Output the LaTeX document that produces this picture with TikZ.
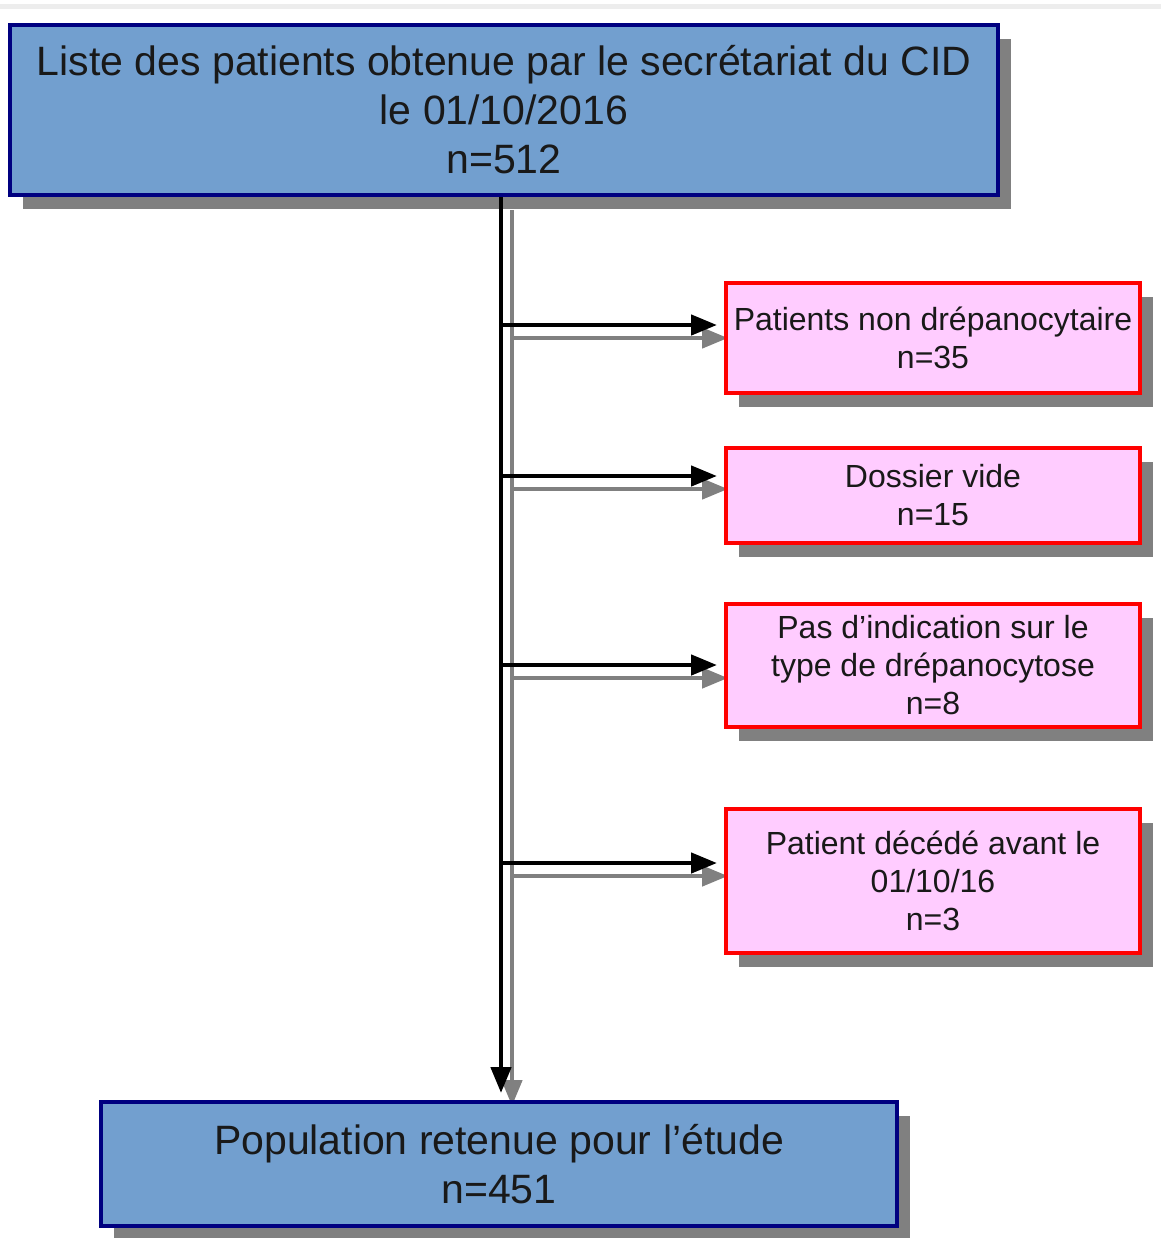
\documentclass[tikz,border=0pt]{standalone}
\usepackage{fontspec}
\setmainfont{Liberation Sans}
\usetikzlibrary{arrows.meta,shadows}
\definecolor{boxblue}{HTML}{729FCF}
\definecolor{boxnavy}{HTML}{000080}
\definecolor{boxpink}{HTML}{FFCCFF}
\definecolor{shadowgray}{HTML}{808080}
\pgfdeclarelayer{shadowlayer}
\pgfsetlayers{shadowlayer,main}
\begin{document}
\begin{tikzpicture}[x=0.5pt,y=-0.5pt,
  bigbox/.style={draw=boxnavy, fill=boxblue, line width=2pt, align=center, inner sep=0pt,
     font=\fontsize{20.5pt}{24.5pt}\selectfont, text=black!90,
     drop shadow={shadow xshift=6.5pt, shadow yshift=-7pt, fill=shadowgray, opacity=1}},
  exclbox/.style={draw=red, fill=boxpink, line width=2pt, align=center, inner sep=0pt,
     minimum width=207pt, font=\fontsize{16pt}{19pt}\selectfont, text=black!90,
     drop shadow={shadow xshift=6.5pt, shadow yshift=-7pt, fill=shadowgray, opacity=1}},
  arr/.style={line width=2.3pt, -{Triangle[length=13pt,width=10pt]}, shorten >=3.5pt},
  arrshadow/.style={arr, draw=shadowgray, fill=shadowgray, transform canvas={shift={(5.5pt,-6.5pt)}}}
]
\useasboundingbox (0,0) rectangle (1161,1238);
\fill[black!7] (0,4) rectangle (1161,9);

% nodes
\node[bigbox, minimum width=494pt, minimum height=85pt] (top) at (504,110)
  {Liste des patients obtenue par le secrétariat du CID\\le 01/10/2016\\n=512};
\node[bigbox, minimum width=398pt, minimum height=62pt] (bot) at (499,1164)
  {Population retenue pour l’étude\\n=451};
\node[exclbox, minimum height=55pt] (r1) at (933,338) {Patients non drépanocytaire\\n=35};
\node[exclbox, minimum height=47.5pt] (r2) at (933,495.5) {Dossier vide\\n=15};
\node[exclbox, minimum height=61.5pt] (r3) at (933,665.5) {Pas d’indication sur le\\type de drépanocytose\\n=8};
\node[exclbox, minimum height=72pt] (r4) at (933,881) {Patient décédé avant le\\01/10/16\\n=3};

% branch points on the trunk
\coordinate (trunk) at (501,0);
\coordinate (b1) at (501,325);
\coordinate (b2) at (501,476);
\coordinate (b3) at (501,665);
\coordinate (b4) at (501,863);

% connector shadows, behind the boxes
\begin{pgfonlayer}{shadowlayer}
\draw[arrshadow] (top.south -| trunk) -- (bot.north -| trunk);
\draw[arrshadow] (b1) -- (b1 -| r1.west);
\draw[arrshadow] (b2) -- (b2 -| r2.west);
\draw[arrshadow] (b3) -- (b3 -| r3.west);
\draw[arrshadow] (b4) -- (b4 -| r4.west);
\end{pgfonlayer}

% connectors
\draw[arr] (top.south -| trunk) -- (bot.north -| trunk);
\draw[arr] (b1) -- (b1 -| r1.west);
\draw[arr] (b2) -- (b2 -| r2.west);
\draw[arr] (b3) -- (b3 -| r3.west);
\draw[arr] (b4) -- (b4 -| r4.west);
\end{tikzpicture}
\end{document}
